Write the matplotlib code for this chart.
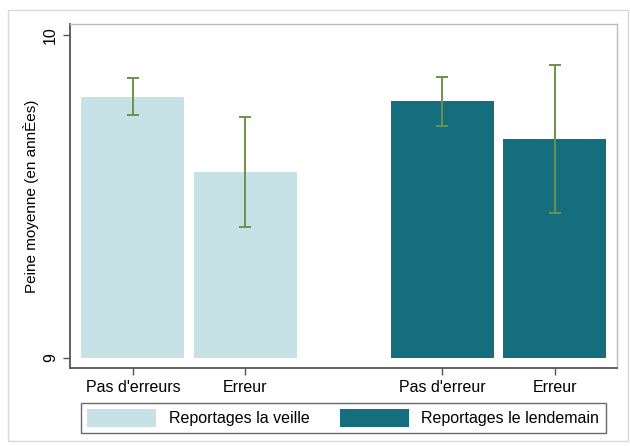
import matplotlib.pyplot as plt
from matplotlib.patches import Rectangle, Patch

plt.rcParams['font.family'] = ['Liberation Sans', 'DejaVu Sans']

labels = ["Pas d'erreurs", "Erreur", "Pas d'erreur", "Erreur"]
groups = ["Reportages la veille", "Reportages le lendemain"]
means = [9.808, 9.576, 9.796, 9.678]
ci_low = [9.752, 9.406, 9.718, 9.449]
ci_high = [9.867, 9.746, 9.870, 9.907]

pos = [0, 1, 2.75, 3.75]
light = "#c6e2e6"
dark = "#156e7e"
colors = [light, light, dark, dark]

fig = plt.figure(figsize=(6.3, 4.46), dpi=100)
ax = fig.add_axes([0.111, 0.175, 0.868, 0.771])

# Stata-like outer graph border
fig.patches.append(Rectangle((0.012, 0.012), 0.985, 0.966, transform=fig.transFigure,
                             fill=False, edgecolor="#d9d9d9", lw=1))

ax.bar(pos, [m - 9 for m in means], bottom=9, width=0.915, color=colors)
yerr = [[m - l for m, l in zip(means, ci_low)], [h - m for m, h in zip(means, ci_high)]]
ax.errorbar(pos, means, yerr=yerr, fmt="none", ecolor="#6c914e", elinewidth=1.4,
            capsize=4, capthick=1.4)

ax.set_ylim(8.969, 10.034)
ax.set_xlim(-0.56, 4.30)
ax.set_yticks([9, 10])
ax.set_yticklabels(["9", "10"], rotation=90, va="center", fontsize=11.5)
ax.set_xticks(pos)
ax.set_xticklabels(labels, fontsize=11.5)
ax.set_ylabel("Peine moyenne (en annÈes)", fontsize=11, labelpad=3)

for s in ["left", "bottom"]:
    ax.spines[s].set_color("#555555")
    ax.spines[s].set_linewidth(1.3)
for s in ["top", "right"]:
    ax.spines[s].set_color("#bbbbbb")
    ax.spines[s].set_linewidth(1)
ax.tick_params(axis="both", direction="out", length=5, color="#555555", width=1)
ax.tick_params(axis="x", pad=4)

handles = [Patch(facecolor=light, label=groups[0]), Patch(facecolor=dark, label=groups[1])]
leg = fig.legend(handles=handles, loc="center", bbox_to_anchor=(0.545, 0.063), ncol=2,
                 frameon=True, fancybox=False, edgecolor="#444444", fontsize=11.5,
                 handlelength=4.3, handleheight=1.3, columnspacing=1.9, borderpad=0.4)
leg.get_frame().set_linewidth(1)

fig.savefig("out.png", dpi=100)
